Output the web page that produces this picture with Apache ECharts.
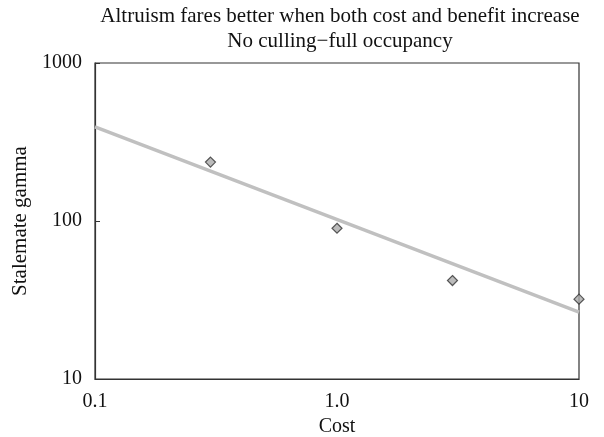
<!DOCTYPE html>
<html><head><meta charset="utf-8">
<script src="https://cdn.jsdelivr.net/npm/echarts@6/dist/echarts.min.js"></script>
<style>html,body{margin:0;padding:0;background:#fff}#c{width:604px;height:437px}</style>
</head><body><div id="c"></div>
<script>
var costs = [0.3, 1.0, 3.0, 10];
var gammas = [236, 90, 42, 32];
var fitX = [0.1, 10];
var fitY = [394, 26.5];
var xTicks = {0.1: '0.1', 1: '1.0', 10: '10'};
var titleLines = ['Altruism fares better when both cost and benefit increase', 'No culling\u2212full occupancy'];

var FONT = '"Liberation Serif", "DejaVu Serif", serif';
var chart = echarts.init(document.getElementById('c'));
chart.setOption({
  animation: false,
  title: {
    text: titleLines.join('\n'),
    left: 335, top: -1, textAlign: 'center',
    textStyle: {fontFamily: FONT, fontSize: 21, fontWeight: 'normal', color: '#111', lineHeight: 25}
  },
  grid: {left: 95, right: 25, top: 63, bottom: 58, containLabel: false, outerBoundsMode: 'none',
    show: true, borderColor: '#333', borderWidth: 1.2, backgroundColor: 'transparent'},
  xAxis: {
    type: 'log', logBase: 10, min: 0.1, max: 10,
    name: 'Cost', nameLocation: 'middle', nameGap: 37,
    nameTextStyle: {fontFamily: FONT, fontSize: 20, color: '#111'},
    axisLine: {lineStyle: {color: '#333', width: 1.2}},
    axisTick: {show: false},
    splitLine: {show: false},
    axisLabel: {fontFamily: FONT, fontSize: 20, color: '#111', margin: 13, hideOverlap: false,
      formatter: function (v) { var k = Math.round(Math.log10(v)); return xTicks[Math.pow(10, k)] || ''; }}
  },
  yAxis: {
    type: 'log', logBase: 10, min: 10, max: 1000,
    name: 'Stalemate gamma', nameLocation: 'middle', nameGap: 62,
    nameTextStyle: {fontFamily: FONT, fontSize: 21, color: '#111'},
    axisLine: {lineStyle: {color: '#333', width: 1.2}},
    axisTick: {show: true, inside: true, length: 5, lineStyle: {color: '#333'}},
    splitLine: {show: false},
    axisLabel: {fontFamily: FONT, fontSize: 20, color: '#111', margin: 13, hideOverlap: false,
      formatter: function (v) { return String(Math.round(v)); }}
  },
  series: [
    {type: 'line', data: fitX.map(function (x, i) { return [x, fitY[i]]; }),
      symbol: 'none', lineStyle: {color: '#c0c0c0', width: 3.5}, z: 2},
    {type: 'scatter', data: costs.map(function (x, i) { return [x, gammas[i]]; }),
      symbol: 'diamond', symbolSize: 10,
      itemStyle: {color: '#aaaaaa', borderColor: '#333', borderWidth: 1.2}, z: 3}
  ]
});
</script>
</body></html>
